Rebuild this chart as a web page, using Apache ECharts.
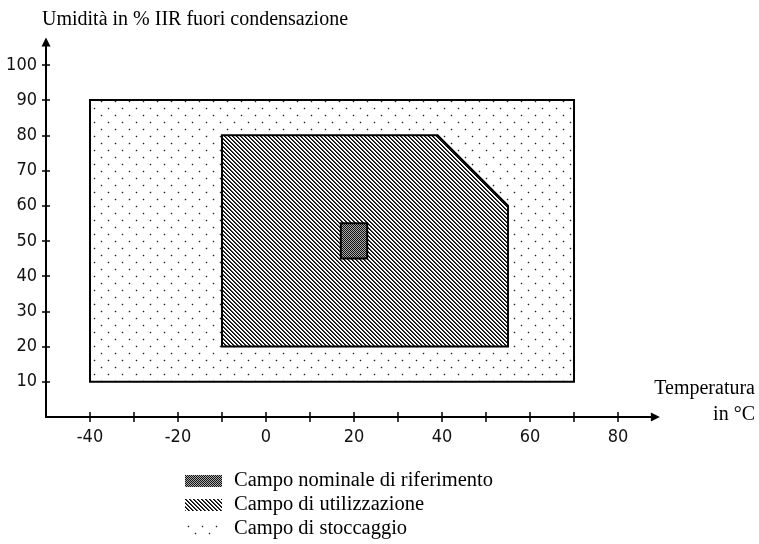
<!DOCTYPE html>
<html>
<head>
<meta charset="utf-8">
<script src="https://cdn.jsdelivr.net/npm/echarts@6/dist/echarts.min.js"></script>
<style>
  html, body { margin: 0; padding: 0; background: #fff; }
  #main { width: 759px; height: 544px; }
</style>
</head>
<body>
<div id="main"></div>
<script>
// axis ticks / labels
var xTicks = [-40, -30, -20, -10, 0, 10, 20, 30, 40, 50, 60, 70, 80]
var xLabels = [-40, -20, 0, 20, 40, 60, 80]
var yTicks = [10, 20, 30, 40, 50, 60, 70, 80, 90, 100]

// zones: [temperatura °C, umidità %]
var storage = [[-40, 10], [70, 10], [70, 90], [-40, 90]]
var usage = [[-10, 20], [55, 20], [55, 60], [39, 80], [-10, 80]]
var nominal = [[17, 45], [23, 45], [23, 55], [17, 55]]

var names = ['Campo nominale di riferimento', 'Campo di utilizzazione', 'Campo di stoccaggio']

var labelFont = '"Liberation Sans Narrow", "DejaVu Sans Condensed", "Liberation Sans", sans-serif'
var serif = '"Liberation Serif", "Times New Roman", serif'

var gridLeft = 46, gridRight = 103.6, gridTop = 42, gridBottom = 127
var gridW = 759 - gridLeft - gridRight
var gridH = 544 - gridTop - gridBottom

// little canvas tiles used as fill patterns
function tile(w, h, draw) {
  var c = document.createElement('canvas')
  c.width = w
  c.height = h
  var ctx = c.getContext('2d')
  ctx.fillStyle = '#fff'
  ctx.fillRect(0, 0, w, h)
  draw(ctx)
  return { image: c, repeat: 'repeat' }
}

function dot(ctx, x, y) {
  ctx.fillStyle = '#ccc'
  ctx.fillRect(x - 1, y, 3, 1)
  ctx.fillRect(x, y - 1, 1, 3)
  ctx.fillStyle = '#222'
  ctx.fillRect(x, y, 1, 1)
}

var dots = tile(14, 14, function(ctx) {
  dot(ctx, 3, 3)
  dot(ctx, 10, 10)
})

var hatch = tile(4, 4, function(ctx) {
  for (var i = 0; i < 4; i++) {
    ctx.fillStyle = '#000'
    ctx.fillRect(i, i, 1, 1)
    ctx.fillStyle = '#444'
    ctx.fillRect((i + 1) % 4, i, 1, 1)
  }
})

var checker = tile(2, 2, function(ctx) {
  ctx.fillStyle = '#111'
  ctx.fillRect(0, 0, 1, 1)
  ctx.fillRect(1, 1, 1, 1)
  ctx.fillStyle = '#aaa'
  ctx.fillRect(1, 0, 1, 1)
  ctx.fillRect(0, 1, 1, 1)
})

function zone(name, pts, fill) {
  return {
    name: name,
    type: 'custom',
    silent: true,
    itemStyle: { color: fill },
    data: [[pts[0][0], pts[0][1]]],
    renderItem: function(params, api) {
      return {
        type: 'polygon',
        shape: { points: pts.map(function(p) { return api.coord(p) }) },
        style: { fill: fill, stroke: '#000', lineWidth: 2 }
      }
    }
  }
}

// the second axis of each direction sits on the far side of the grid and is pulled
// back onto the first one with a negative offset: its outer ticks then point into
// the plot, so the ticks cross the axis line like in the original
function xAxisBase(mirror) {
  return {
    type: 'value',
    position: mirror ? 'top' : 'bottom',
    offset: mirror ? -gridH : 0,
    min: -50,
    max: 88.5,
    splitLine: { show: false },
    axisLine: {
      show: true,
      onZero: false,
      symbol: mirror ? 'none' : ['none', 'triangle'],
      symbolSize: [9, 9],
      lineStyle: { color: '#000', width: 2 }
    },
    axisTick: {
      show: true,
      length: 5,
      customValues: xTicks,
      lineStyle: { color: '#000', width: 1.5 }
    },
    axisLabel: {
      show: !mirror,
      customValues: xLabels,
      margin: 11,
      color: '#111',
      fontFamily: labelFont,
      fontSize: 18
    }
  }
}

function yAxisBase(mirror) {
  return {
    type: 'value',
    position: mirror ? 'right' : 'left',
    offset: mirror ? -gridW : 0,
    min: 0,
    max: 106.5,
    splitLine: { show: false },
    axisLine: {
      show: true,
      onZero: false,
      symbol: mirror ? 'none' : ['none', 'triangle'],
      symbolSize: [9, 9],
      lineStyle: { color: '#000', width: 2 }
    },
    axisTick: {
      show: true,
      length: 4,
      customValues: yTicks,
      lineStyle: { color: '#000', width: 1.5 }
    },
    axisLabel: {
      show: !mirror,
      customValues: yTicks,
      margin: 9,
      color: '#111',
      fontFamily: labelFont,
      fontSize: 18
    }
  }
}

var chart = echarts.init(document.getElementById('main'), null, { renderer: 'canvas' })

chart.setOption({
  backgroundColor: '#fff',
  animation: false,
  title: [{
    text: 'Umidità in % IIR fuori condensazione',
    left: 42,
    top: 10,
    padding: 0,
    textStyle: { fontFamily: serif, fontSize: 20, fontWeight: 'normal', color: '#000' }
  }, {
    text: 'Temperatura\nin °C',
    left: 755,
    top: 376,
    padding: 0,
    textAlign: 'right',
    textStyle: { fontFamily: serif, fontSize: 20, fontWeight: 'normal', color: '#000', lineHeight: 26, align: 'right' }
  }],
  grid: {
    left: gridLeft,
    right: gridRight,
    top: gridTop,
    bottom: gridBottom,
    containLabel: false
  },
  xAxis: [xAxisBase(false), xAxisBase(true)],
  yAxis: [yAxisBase(false), yAxisBase(true)],
  legend: {
    orient: 'vertical',
    left: 185,
    top: 470,
    padding: 0,
    itemWidth: 37,
    itemHeight: 12,
    itemGap: 2,
    selectedMode: false,
    textStyle: { fontFamily: serif, fontSize: 20.5, color: '#000', lineHeight: 22, padding: [0, 0, 0, 7] },
    data: [
      { name: names[0], icon: 'rect', itemStyle: { color: checker, borderWidth: 0 } },
      { name: names[1], icon: 'rect', itemStyle: { color: hatch, borderWidth: 0 } },
      { name: names[2], icon: 'rect', itemStyle: { color: dots, borderWidth: 0 } }
    ]
  },
  series: [
    zone(names[2], storage, dots),
    zone(names[1], usage, hatch),
    zone(names[0], nominal, checker),
    {
      // keeps the mirror axes bound to something
      type: 'scatter',
      xAxisIndex: 1,
      yAxisIndex: 1,
      silent: true,
      symbolSize: 0,
      data: [nominal[0]]
    }
  ]
})
</script>
</body>
</html>
